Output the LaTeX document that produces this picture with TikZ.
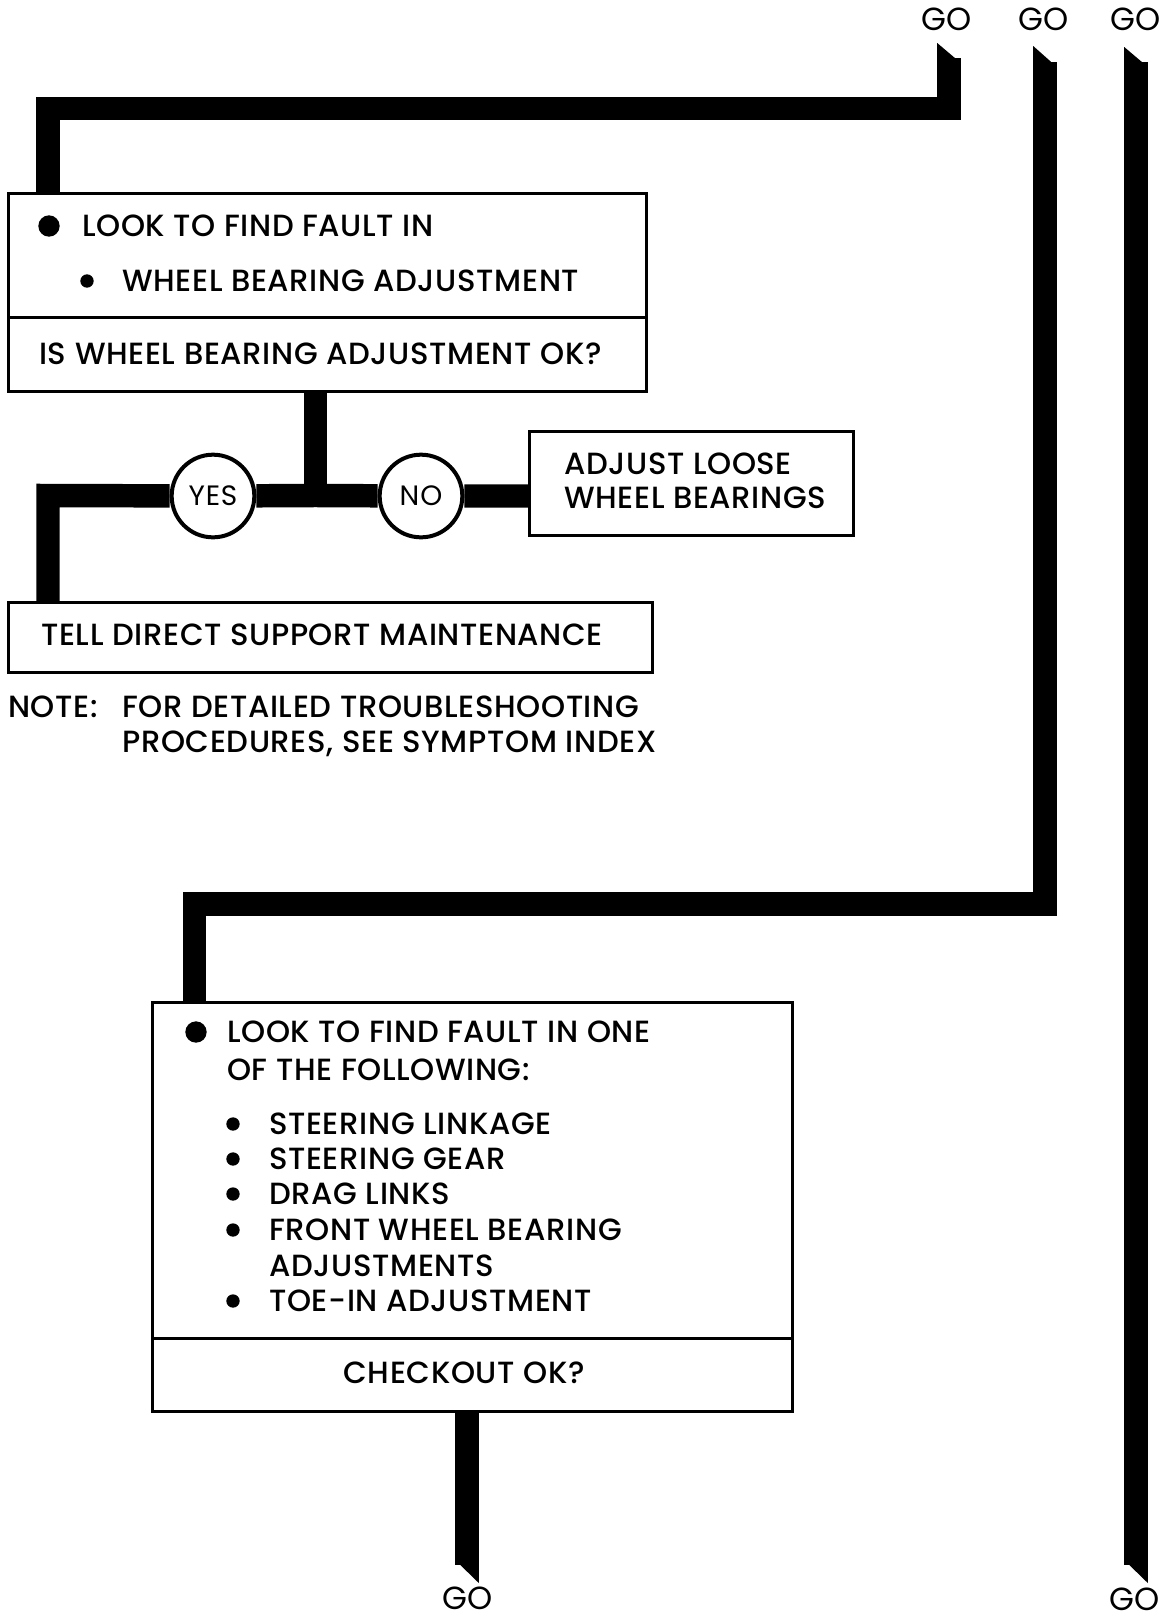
\documentclass[tikz,border=0pt]{standalone}
\usepackage{fontspec}
\setmainfont{Poppins}[UprightFont=* Medium]
\newfontfamily\gofont{Poppins}
\usetikzlibrary{backgrounds}
\begin{document}
\begin{tikzpicture}[x=0.75pt,y=-0.75pt,
  box/.style={draw, line width=2.4pt, fill=white, inner sep=0, anchor=north west},
  bar/.style={line width=17.6pt, line join=miter},
  txt/.style={inner sep=0, anchor=west, font=\fontsize{23}{27}\selectfont\addfontfeatures{LetterSpace=2}, text height=16pt, text depth=0pt},
  ctxt/.style={txt, anchor=center},
  yn/.style={circle, draw, line width=3pt, fill=white, minimum size=62pt, inner sep=0, font=\gofont\fontsize{21}{25}\selectfont\addfontfeatures{LetterSpace=3}},
  bigdot/.style={circle, fill, inner sep=0, minimum size=16pt},
  smalldot/.style={circle, fill, inner sep=0, minimum size=10pt},
  golabel/.style={inner sep=0, font=\gofont\fontsize{24}{28}\selectfont, text height=16pt, text depth=0pt}]
\useasboundingbox (0,0) rectangle (1161,1617);

% boxes
\node[box, minimum width=478.5pt, minimum height=93pt] (b1) at (7,192) {};
\node[box, minimum width=478.5pt, minimum height=55.5pt] (b1q) at (7,316) {};
\node[box, minimum width=243pt, minimum height=78pt] (adj) at (528,430) {};
\node[box, minimum width=483pt, minimum height=52.5pt] (tell) at (7,601) {};
\node[box, minimum width=480pt, minimum height=252pt] (b2) at (151,1001) {};
\node[box, minimum width=480pt, minimum height=54.75pt] (b2q) at (151,1337) {};

% decision circles
\node[yn] (yes) at (213,496) {YES};
\node[yn] (no) at (421,496) {NO};

% texts box 1
\node[bigdot] (d1) at (49,226) {};
\node[txt] (t1) at (82,226) {LOOK TO FIND FAULT IN};
\node[smalldot] (d2) at (87,281) {};
\node[txt] (t2) at (122,281) {WHEEL BEARING ADJUSTMENT};
\node[txt] (q1) at (39,354) {IS WHEEL BEARING ADJUSTMENT OK?};
\node[txt] (a1) at (564,464) {ADJUST LOOSE};
\node[txt] (a2) at (564,498) {WHEEL BEARINGS};
\node[txt] (tl) at (41,635) {TELL DIRECT SUPPORT MAINTENANCE};
\node[txt] (n0) at (8,707) {NOTE:};
\node[txt] (n1) at (122,707) {FOR DETAILED TROUBLESHOOTING};
\node[txt] (n2) at (122,742) {PROCEDURES, SEE SYMPTOM INDEX};

% texts box 2
\node[bigdot] (d3) at (196,1032) {};
\node[txt] (u1) at (227,1032) {LOOK TO FIND FAULT IN ONE};
\node[txt] (u2) at (227,1070) {OF THE FOLLOWING:};
\node[smalldot] (e1) at (233,1124) {};
\node[txt] (v1) at (269,1124) {STEERING LINKAGE};
\node[smalldot] (e2) at (233,1159) {};
\node[txt] (v2) at (269,1159) {STEERING GEAR};
\node[smalldot] (e3) at (233,1194) {};
\node[txt] (v3) at (269,1194) {DRAG LINKS};
\node[smalldot] (e4) at (233,1230) {};
\node[txt] (v4) at (269,1230) {FRONT WHEEL BEARING};
\node[txt] (v5) at (269,1266) {ADJUSTMENTS};
\node[smalldot] (e6) at (233,1301) {};
\node[txt] (v6) at (269,1301) {TOE-IN ADJUSTMENT};
\node[ctxt] (q2) at (464,1373) {CHECKOUT OK?};

% GO labels
\node[golabel] (go1) at (947,20) {GO};
\node[golabel] (go2) at (1044,20) {GO};
\node[golabel] (go3) at (1136,20) {GO};
\node[golabel] (go4) at (468,1599) {GO};
\node[golabel] (go5) at (1135,1600) {GO};

% connector end points
\coordinate (s1) at (949,58);
\coordinate (k1) at (48,108.5);
\coordinate (s2) at (1045,62);
\coordinate (k2) at (194.5,904);
\coordinate (s3) at (1136,62);
\coordinate (e3b) at (1136,1565);
\coordinate (e4b) at (467,1565);
\coordinate (j) at (315.5,495.5);
\coordinate (k0) at (48,495.5);

\begin{scope}[on background layer]
  \fill[white] (0,0) rectangle (1161,1617);
  % connector 1
  \draw[bar] (s1) |- (k1) -- (k1 |- b1.north);
  \fill (937.2,43) -- (960.8,63) -- (960.8,60) -- (937.2,60) -- cycle;
  % connector 2
  \draw[bar] (s2) |- (k2) -- (k2 |- b2.north);
  \fill (1033.2,46) -- (1056.8,67) -- (1056.8,64) -- (1033.2,64) -- cycle;
  % connector 3
  \draw[bar] (s3) -- (e3b);
  \fill (1124.2,47) -- (1147.8,67) -- (1147.8,64) -- (1124.2,64) -- cycle;
  \fill (1124.2,1560) -- (1147.8,1583) -- (1147.8,1563) -- (1124.2,1563) -- cycle;
  % decision
  \draw[bar] (b1q.south -| j) -- (j);
  \draw[bar] (yes) -- (j) -- (no) -- (adj.west |- no);
  \draw[bar] (yes) -- (k0) -- (k0 |- tell.north);
  % checkout
  \draw[bar] (b2q.south -| e4b) -- (e4b);
  \fill (455.2,1560) -- (478.8,1583) -- (478.8,1563) -- (455.2,1563) -- cycle;
\end{scope}
\end{tikzpicture}
\end{document}
